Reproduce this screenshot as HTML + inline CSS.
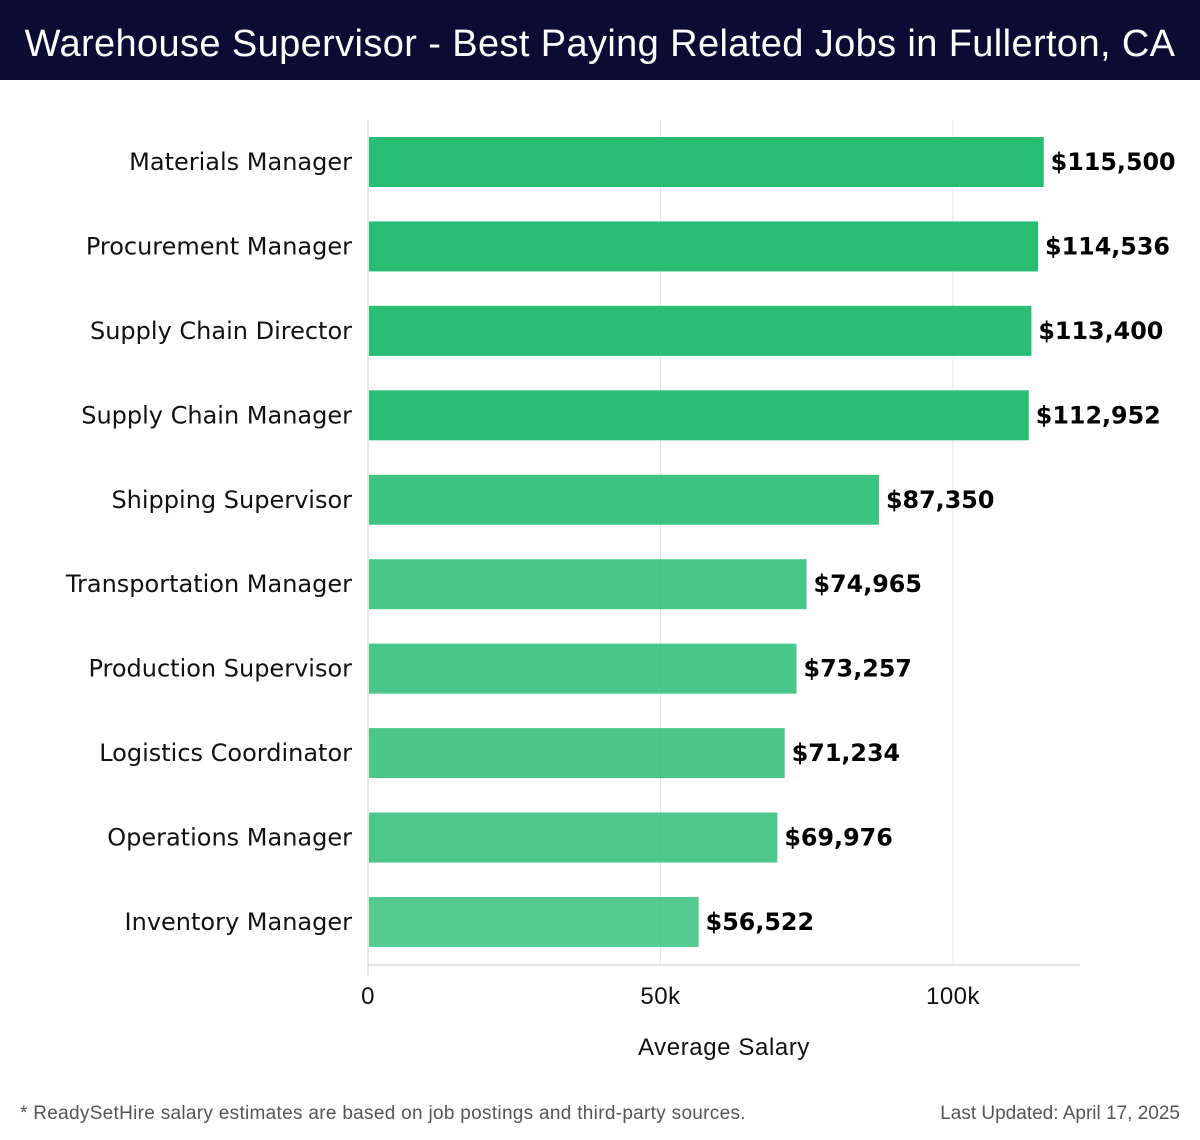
<!DOCTYPE html>
<html><head><meta charset="utf-8"><style>
body{margin:0;width:1200px;height:1140px;background:#fff;font-family:"Liberation Sans","DejaVu Sans",sans-serif;overflow:hidden}
#hdr{position:absolute;left:0;top:0;width:1200px;height:80px;background:#0b0c33;color:#fff;font-size:38px;line-height:88px;text-align:center;letter-spacing:0.38px}
</style></head><body>
<div id="hdr">Warehouse Supervisor - Best Paying Related Jobs in Fullerton, CA</div>
<svg id="c" width="1200" height="1140" style="position:absolute;left:0;top:0"></svg>
<script>
const categories=["Materials Manager","Procurement Manager","Supply Chain Director","Supply Chain Manager","Shipping Supervisor","Transportation Manager","Production Supervisor","Logistics Coordinator","Operations Manager","Inventory Manager"];
const values=[115500,114536,113400,112952,87350,74965,73257,71234,69976,56522];
const valueLabels=["$115,500","$114,536","$113,400","$112,952","$87,350","$74,965","$73,257","$71,234","$69,976","$56,522"];
const ticks=[0,50000,100000];
const tickLabels=["0","50k","100k"];
const NS="http://www.w3.org/2000/svg";
const svg=document.getElementById('c');
const x=v=>368+v*(585/100000);
const y=i=>137+i*84.44;
const BH=50;
const DJ='"DejaVu Sans",sans-serif';
function mk(t,a){const e=document.createElementNS(NS,t);for(const k in a)e.setAttribute(k,a[k]);svg.appendChild(e);return e;}
ticks.forEach((t,i)=>{
  const g=mk('line',{x1:x(t),x2:x(t),y1:120,y2:i==0?975:965,stroke:i==0?'#ccc':'#e6e6e6','stroke-width':1});
  
  
  const tl=mk('text',{x:x(t),y:1004,'text-anchor':'middle','font-size':24,fill:'#111','letter-spacing':'0.5'});
  tl.textContent=tickLabels[i];
  
  
});
const ax=mk('line',{x1:368,x2:1080,y1:965,y2:965,stroke:'#ccc','stroke-width':1});


const mx=Math.max(...values),mn=Math.min(...values);
categories.forEach((c,i)=>{
  const v=values[i];
  const op=0.78+0.22*(v-mn)/(mx-mn);
  const r=mk('rect',{x:x(0)+1,y:y(i),width:x(v)-x(0)-1,height:BH,fill:'#27bd72','fill-opacity':op});
  
  
  const l=mk('text',{x:352,y:y(i)+BH/2+8,'text-anchor':'end','font-size':24,fill:'#111','font-family':DJ});
  l.textContent=c;
  
  
  const vl=mk('text',{x:x(v)+7,y:y(i)+BH/2+8,'font-size':23.8,'font-weight':'bold',fill:'#000','font-family':DJ});
  vl.textContent=valueLabels[i];
  
  
});
const at=mk('text',{x:724,y:1055,'text-anchor':'middle','font-size':24,fill:'#111','letter-spacing':'0.6'});
at.textContent='Average Salary';


const f1=mk('text',{x:20,y:1119,'font-size':19,fill:'#555','letter-spacing':'0.3'});
f1.textContent='* ReadySetHire salary estimates are based on job postings and third-party sources.';


const f2=mk('text',{x:1180,y:1119,'text-anchor':'end','font-size':19,fill:'#555'});
f2.textContent='Last Updated: April 17, 2025';


</script>
</body></html>
